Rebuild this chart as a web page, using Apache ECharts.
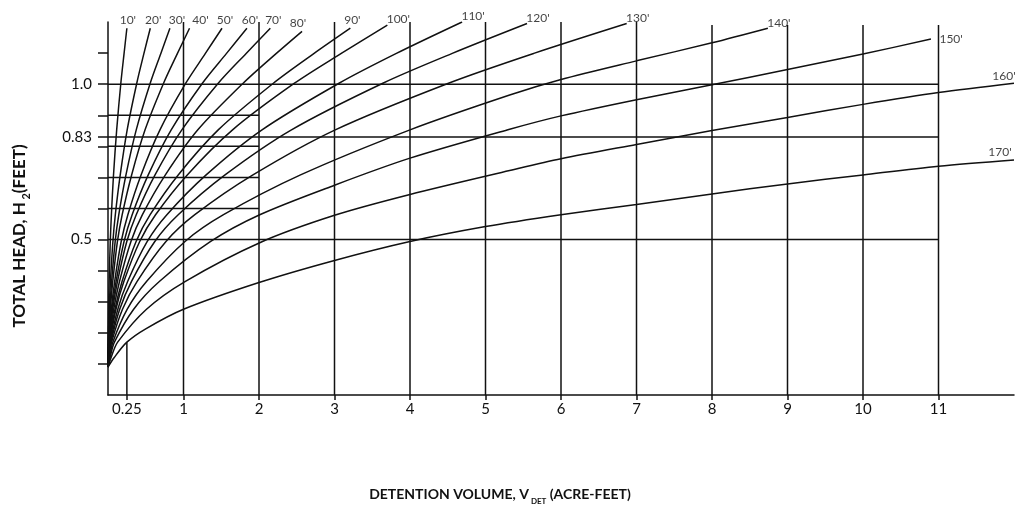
<!DOCTYPE html>
<html>
<head>
<meta charset="utf-8">
<script src="https://cdn.jsdelivr.net/npm/echarts@6/dist/echarts.min.js"></script>
<style>
html,body{margin:0;padding:0;background:#fff;}
#chart{width:1017px;height:506px;}
</style>
</head>
<body>
<div id="chart"></div>
<script>
// ---- data ----
const curveLabels = ["10'","20'","30'","40'","50'","60'","70'","80'","90'","100'","110'","120'","130'","140'","150'","160'","170'"];

const c10  = [[0,0.09],[0.001,0.12],[0.002,0.17],[0.007,0.276],[0.015,0.365],[0.03,0.494],[0.045,0.58],[0.073,0.708],[0.115,0.853],[0.17,1.003],[0.213,1.099],[0.25,1.18]];
const c20  = [[0,0.09],[0.0013,0.12],[0.004,0.17],[0.016,0.276],[0.032,0.365],[0.065,0.494],[0.097,0.58],[0.162,0.708],[0.254,0.853],[0.381,1.003],[0.476,1.099],[0.56,1.18]];
const c30  = [[0,0.09],[0.002,0.12],[0.006,0.17],[0.024,0.276],[0.048,0.365],[0.095,0.494],[0.143,0.58],[0.238,0.708],[0.374,0.853],[0.559,1.003],[0.70,1.099],[0.82,1.18]];
const c40  = [[0,0.09],[0.0025,0.12],[0.008,0.17],[0.031,0.276],[0.063,0.365],[0.125,0.494],[0.188,0.58],[0.313,0.708],[0.491,0.853],[0.736,1.003],[0.92,1.099],[1.08,1.18]];
const c50  = [[0,0.09],[0.0035,0.12],[0.011,0.17],[0.044,0.276],[0.088,0.365],[0.175,0.494],[0.263,0.58],[0.438,0.708],[0.688,0.853],[1.03,1.003],[1.29,1.099],[1.51,1.18]];
const c60  = [[0,0.09],[0.004,0.12],[0.013,0.17],[0.053,0.276],[0.107,0.365],[0.213,0.494],[0.32,0.58],[0.533,0.708],[0.837,0.853],[1.25,1.003],[1.57,1.099],[1.84,1.18]];
const c70  = [[0,0.09],[0.005,0.12],[0.016,0.17],[0.062,0.276],[0.125,0.365],[0.249,0.494],[0.374,0.58],[0.623,0.708],[0.978,0.853],[1.46,1.003],[1.83,1.099],[2.15,1.18]];
const c80  = [[0,0.09],[0.006,0.12],[0.019,0.17],[0.076,0.276],[0.152,0.365],[0.304,0.494],[0.456,0.58],[0.76,0.708],[1.19,0.853],[1.79,1.003],[2.23,1.099],[2.57,1.17]];
const c90  = [[0,0.09],[0.007,0.12],[0.023,0.17],[0.093,0.276],[0.186,0.365],[0.372,0.494],[0.558,0.58],[0.93,0.708],[1.46,0.853],[2.19,1.003],[2.73,1.099],[3.21,1.18]];
const c100 = [[0,0.09],[0.008,0.12],[0.026,0.17],[0.105,0.276],[0.21,0.365],[0.42,0.494],[0.63,0.58],[1.05,0.708],[1.65,0.853],[2.47,1.003],[3.09,1.099],[3.7,1.19]];
const c110 = [[0,0.09],[0.01,0.12],[0.033,0.17],[0.13,0.276],[0.26,0.365],[0.52,0.494],[0.78,0.58],[1.3,0.708],[2.04,0.853],[3.06,1.003],[3.82,1.099],[4.69,1.2]];
const c120 = [[0,0.09],[0.012,0.12],[0.039,0.17],[0.155,0.276],[0.31,0.365],[0.62,0.494],[0.93,0.58],[1.55,0.708],[2.43,0.853],[3.64,1.003],[4.56,1.099],[5.55,1.195]];
const c130 = [[0,0.09],[0.015,0.12],[0.048,0.17],[0.192,0.276],[0.384,0.365],[0.768,0.494],[1.15,0.58],[1.92,0.708],[3.01,0.853],[4.51,1.003],[5.64,1.099],[6.87,1.195]];
const c140 = [[0,0.09],[0.02,0.12],[0.064,0.17],[0.255,0.276],[0.51,0.365],[1.02,0.494],[1.53,0.58],[2.55,0.708],[4.0,0.853],[5.32,0.965],[6,1.015],[7,1.075],[8,1.133],[8.74,1.18]];
const c150 = [[0,0.09],[0.027,0.12],[0.085,0.17],[0.34,0.276],[0.68,0.365],[1.36,0.494],[2.01,0.58],[3,0.675],[4,0.762],[5.32,0.855],[6,0.898],[7,0.95],[8,0.998],[9,1.047],[10,1.097],[10.9,1.145]];
const c160 = [[0,0.09],[0.04,0.12],[0.128,0.17],[0.51,0.276],[1.02,0.365],[2.01,0.49],[3,0.578],[4,0.645],[5.32,0.722],[6,0.76],[7,0.806],[8,0.851],[9,0.893],[10,0.935],[11,0.973],[12,1.003]];
const c170 = [[0,0.09],[0.08,0.12],[0.25,0.17],[0.5,0.213],[1,0.276],[2,0.362],[3,0.433],[4,0.494],[5,0.542],[6,0.58],[7,0.613],[8,0.647],[9,0.679],[10,0.708],[11,0.736],[12,0.756]];
const curves = [c10,c20,c30,c40,c50,c60,c70,c80,c90,c100,c110,c120,c130,c140,c150,c160,c170];

// reference grid lines
const hLineY   = [1.0, 0.9, 0.83, 0.8, 0.7, 0.6, 0.5];
const hLineEnd = [11, 2, 11, 2, 2, 2, 11];
const vLineX   = [0.25, 1, 2, 3, 4, 5, 6, 7, 8, 9, 10, 11];
const vLineTop = [0.17, 1.2, 1.2, 1.2, 1.2, 1.2, 1.2, 1.2, 1.19, 1.19, 1.19, 1.19];

// axis ticks / labels
const xTickValues  = [0.25, 1, 2, 3, 4, 5, 6, 7, 8, 9, 10, 11];
const yTickValues  = [0.1, 0.2, 0.3, 0.4, 0.5, 0.6, 0.7, 0.8, 0.83, 0.9, 1.0, 1.1];
const yLabelValues = [0.5, 0.83, 1.0];

// ---- build chart ----
const INK = '#111';
const FONT = 'Lato';

function labelCfg(i) {
  const base = {show: true, formatter: curveLabels[i], color: INK, fontFamily: FONT, fontSize: 12};
  if (i < 9) {
    const dx = [1, 3, 7, 11, 3, 3, 3, -4, 2][i];
    return Object.assign(base, {position: 'top', distance: 2, offset: [dx, 0]});
  }
  if (i < 14) return Object.assign(base, {position: 'top', distance: 1, offset: [11, 2]});
  if (i === 14) return Object.assign(base, {position: 'right', distance: 8});
  if (i === 15) return Object.assign(base, {position: 'top', distance: 1, offset: [-10, 0]});
  return Object.assign(base, {position: 'top', distance: 1, offset: [-14, 0]});
}

const series = [];
hLineY.forEach((y, i) => {
  series.push({type: 'line', data: [[0, y], [hLineEnd[i], y]], showSymbol: false, silent: true,
    lineStyle: {color: INK, width: 1.5}, z: 1});
});
vLineX.forEach((x, i) => {
  series.push({type: 'line', data: [[x, 0], [x, vLineTop[i]]], showSymbol: false, silent: true,
    lineStyle: {color: INK, width: 1.5}, z: 1});
});
curves.forEach((pts, i) => {
  series.push({type: 'line', name: curveLabels[i], data: pts, smooth: 0.3, showSymbol: false,
    lineStyle: {color: INK, width: 1.5}, z: 2});
});
// curve-name labels at the end of every curve
series.push({
  type: 'scatter', silent: true, z: 3, symbolSize: 1,
  itemStyle: {color: 'rgba(0,0,0,0)'},
  data: curves.map((pts, i) => ({value: pts[pts.length - 1], label: labelCfg(i)}))
});

const chart = echarts.init(document.getElementById('chart'), null, {renderer: 'canvas'});
chart.setOption({
  animation: false,
  backgroundColor: '#fff',
  grid: {left: 108, top: 22, width: 906, height: 373, containLabel: false},
  xAxis: {
    type: 'value', min: 0, max: 12,
    axisLine: {show: true, lineStyle: {color: INK, width: 1.5}},
    axisTick: {show: true, customValues: xTickValues, length: 5, lineStyle: {color: INK, width: 1.5}},
    axisLabel: {show: true, customValues: xTickValues, margin: 7, color: INK, fontFamily: FONT, fontSize: 15,
      formatter: v => String(v)},
    splitLine: {show: false}
  },
  yAxis: {
    type: 'value', min: 0, max: 1.2,
    axisLine: {show: true, lineStyle: {color: INK, width: 1.5}},
    axisTick: {show: true, customValues: yTickValues, length: 10, lineStyle: {color: INK, width: 1.5}},
    axisLabel: {show: true, customValues: yLabelValues, margin: 16, color: INK, fontFamily: FONT, fontSize: 15,
      formatter: v => (v === 1 ? '1.0' : String(v))},
    splitLine: {show: false}
  },
  graphic: [
    {type: 'text', x: 20, y: 236, rotation: Math.PI / 2,
      style: {text: '{b|TOTAL HEAD, H}{s| 2}{b|(FEET)}', align: 'center', verticalAlign: 'middle',
        rich: {b: {fontFamily: FONT, fontSize: 17, fontWeight: 'bold', fill: INK, lineHeight: 24, verticalAlign: 'middle'},
               s: {fontFamily: FONT, fontSize: 11, fontWeight: 'bold', fill: INK, lineHeight: 24, verticalAlign: 'bottom'}}}},
    {type: 'text', x: 500, y: 494,
      style: {text: '{b|DETENTION VOLUME, V}{s| DET}{b| (ACRE-FEET)}', align: 'center', verticalAlign: 'middle',
        rich: {b: {fontFamily: FONT, fontSize: 14, fontWeight: 'bold', fill: INK, lineHeight: 22, verticalAlign: 'middle'},
               s: {fontFamily: FONT, fontSize: 8, fontWeight: 'bold', fill: INK, lineHeight: 22, verticalAlign: 'bottom'}}}}
  ],
  series: series
});
</script>
</body>
</html>
